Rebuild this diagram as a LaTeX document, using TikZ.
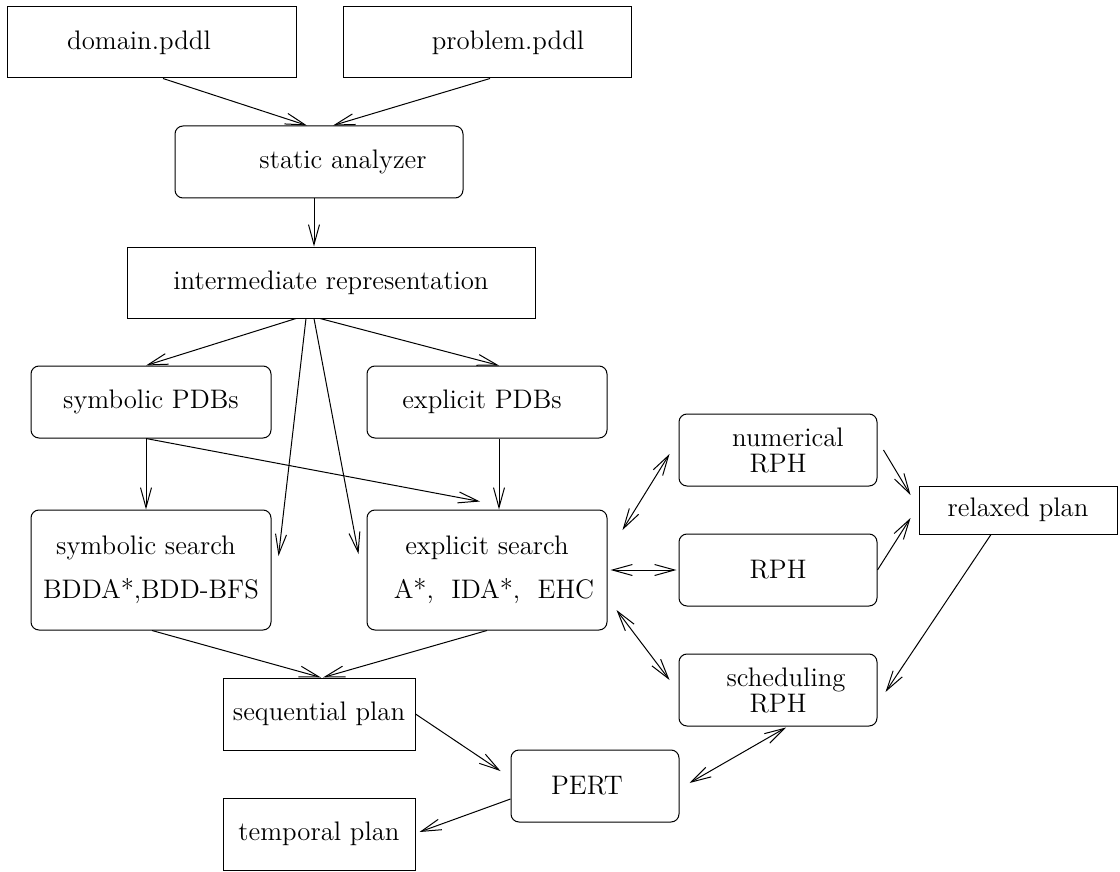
\documentclass[tikz,border=0pt]{standalone}
\usetikzlibrary{arrows.meta,calc}
\newcommand{\xpad}[1]{\rule{#1}{0pt}}
\begin{document}
\begin{tikzpicture}[x=0.5pt,y=-0.5pt,line width=0.5pt,>={Straight Barb[length=10pt,width=5.5pt]}]
    \tikzstyle{every node}=[draw,shape=rectangle,inner sep=0pt,align=center,font=\fontsize{13.4}{16}\selectfont];
    \tikzstyle{rnd}=[rounded corners=4pt];
    \useasboundingbox (0,0) rectangle (1120,872);
    \node at (151.5, 42.5) (domain) [minimum width=144.5pt, minimum height=35.5pt] {domain.pddl\xpad{12.5pt}};
    \node at (487, 42.5) (problem) [minimum width=144pt, minimum height=35.5pt] {\xpad{21pt}problem.pddl};
    \node at (319, 162) (static) [rnd, minimum width=144pt, minimum height=36pt] {\xpad{24pt}static analyzer};
    \node at (331, 282.5) (inter) [minimum width=204pt, minimum height=35.5pt] {intermediate representation};
    \draw[->] ($(domain.south)+(11.5,0)$) to ($(static.north)+(-12,0)$);
    \draw[->] ($(problem.south)+(3,0)$) to ($(static.north)+(14,0)$);
    \draw[->] ($(static.south)+(-5,0)$) to ($(inter.north)+(-17,0)$);

    \node at (151, 402) (sympdb) [rnd, minimum width=120pt, minimum height=36pt] {symbolic PDBs};
    \node at (487, 402) (exppdb) [rnd, minimum width=120pt, minimum height=36pt] {explicit PDBs\xpad{5pt}};
    \node at (151, 570) (symsearch) [rnd, minimum width=120pt, minimum height=60pt] {symbolic search\xpad{5pt}\\[6pt]BDDA*,BDD-BFS};
    \node at (487, 570) (expsearch) [rnd, minimum width=120pt, minimum height=60pt] {explicit search\\[6pt]\xpad{7pt}A*,\ \ IDA*,\ \ EHC};
    \draw[->] ($(inter.south)+(-35,0)$) to ($(sympdb.north)+(-5,0)$);
    \draw[->] ($(inter.south)+(-11,0)$) to ($(exppdb.north)+(12,0)$);
    \draw[->] ($(inter.south)+(-25,0)$) to ($(symsearch.east)+(7,-14)$);
    \draw[->] ($(inter.south)+(-17,0)$) to ($(expsearch.west)+(-8,-16)$);
    \draw[->] ($(sympdb.south)+(-5,0)$) to ($(symsearch.north)+(-5,0)$);
    \draw[->] ($(sympdb.south)+(-5,0)$) to ($(expsearch.north)+(-7,-8)$);
    \draw[->] ($(exppdb.south)+(12,0)$) to ($(expsearch.north)+(12,0)$);

    \node at (778, 450) (numrph) [rnd, minimum width=99pt, minimum height=36pt] {\xpad{10pt}numerical\\[-3pt]RPH};
    \node at (778, 570) (rph) [rnd, minimum width=99pt, minimum height=36pt] {RPH};
    \node at (778, 690) (schedrph) [rnd, minimum width=99pt, minimum height=36pt] {\xpad{8pt}scheduling\\[-3pt]RPH};
    \node at (1018, 510) (relaxed) [minimum width=99pt, minimum height=24pt] {relaxed plan};
    \draw[<->] ($(expsearch.east)+(15,-40)$) to ($(numrph.west)+(-9,4)$);
    \draw[<->] ($(expsearch.east)+(3,0)$) to ($(rph.west)+(-2,0)$);
    \draw[<->] ($(expsearch.east)+(9,40)$) to ($(schedrph.west)+(-9,-10)$);
    \draw[->] ($(numrph.east)+(6,0)$) to ($(relaxed.west)+(-8,-15)$);
    \draw[->] (rph.east) to ($(relaxed.west)+(-8,8)$);
    \draw[->] ($(relaxed.south)+(-27,0)$) to ($(schedrph.east)+(8,2)$);

    \node at (319, 714) (seqplan) [minimum width=96pt, minimum height=36pt] {sequential plan};
    \node at (595, 786) (pert) [rnd, minimum width=84pt, minimum height=36pt] {PERT\xpad{8pt}};
    \node at (319, 834) (tempplan) [minimum width=96pt, minimum height=36pt] {temporal plan};
    \draw[->] ($(symsearch.south)+(1,0)$) to ($(seqplan.north)+(2,0)$);
    \draw[->] (expsearch.south) to ($(seqplan.north)+(4,0)$);
    \draw[->] (seqplan.east) to ($(pert.west)+(-10,-15)$);
    \draw[<->] ($(schedrph.south)+(8,1)$) to ($(pert.east)+(10,-3)$);
    \draw[->] ($(pert.west)+(0,13)$) to ($(tempplan.east)+(4,-2)$);
\end{tikzpicture}
\end{document}
